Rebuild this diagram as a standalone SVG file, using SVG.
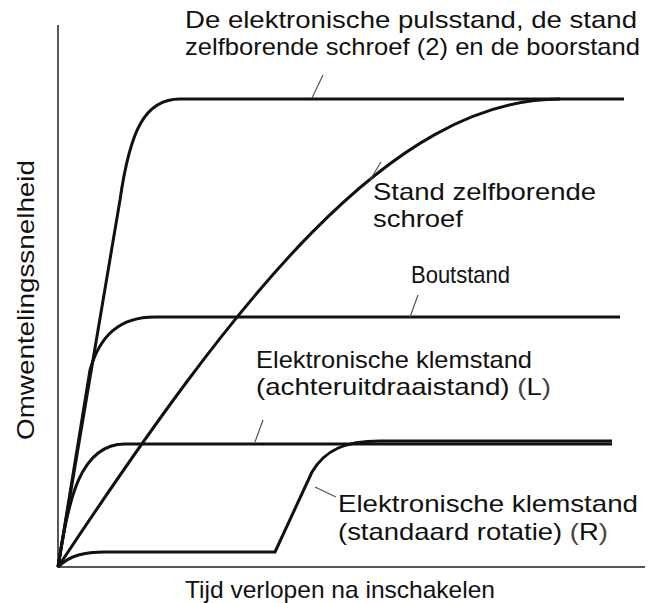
<svg xmlns="http://www.w3.org/2000/svg" width="656" height="603" viewBox="0 0 656 603">
<style>
text{font-family:"Liberation Sans",Arial,sans-serif;font-size:24px;fill:#111}
.c{fill:none;stroke:#111;stroke-width:3;stroke-linejoin:round}
.a{fill:none;stroke:#222;stroke-width:1.5}
.l{fill:none;stroke:#555;stroke-width:1.2}
</style>
<rect width="656" height="603" fill="#fff"/>
<g id="axes">
<path class="a" d="M58,25 V567 H645"/>
<text x="34" y="300" text-anchor="middle" transform="rotate(-90 34 300)" textLength="280" lengthAdjust="spacingAndGlyphs">Omwentelingssnelheid</text>
<text x="340" y="598" text-anchor="middle" textLength="310" lengthAdjust="spacingAndGlyphs">Tijd verlopen na inschakelen</text>
</g>
<g id="curves">
<path class="c" d="M58,567 L120,200 C130,130 145,99 180,99 H624"/>
<path class="c" d="M58,567 C235,300 390,99 560,99"/>
<path class="c" d="M58,567 L90,370 C100,335 120,317 155,317 H620"/>
<path class="c" d="M58,567 C68,500 80,444 125,444 H612"/>
<path class="c" d="M58,567 C70,555 85,552 105,552 H275 L312,472 C325,450 345,441 380,441 H612"/>
</g>
<g id="labels">
<path class="l" d="M312,98 L323,75"/>
<text x="185" y="28" textLength="452" lengthAdjust="spacingAndGlyphs">De elektronische pulsstand, de stand</text>
<text x="185" y="55" textLength="455" lengthAdjust="spacingAndGlyphs">zelfborende schroef (2) en de boorstand</text>
<path class="l" d="M381,162 L370,180"/>
<text x="373" y="200" textLength="223" lengthAdjust="spacingAndGlyphs">Stand zelfborende</text>
<text x="373" y="227" textLength="90" lengthAdjust="spacingAndGlyphs">schroef</text>
<path class="l" d="M410,317 L418,295"/>
<text x="411" y="283" textLength="99" lengthAdjust="spacingAndGlyphs">Boutstand</text>
<path class="l" d="M255,442 L263,420"/>
<text x="256" y="368" textLength="276" lengthAdjust="spacingAndGlyphs">Elektronische klemstand</text>
<text x="256" y="395" textLength="295" lengthAdjust="spacingAndGlyphs">(achteruitdraaistand) <tspan fill="#444">(</tspan>L<tspan fill="#444">)</tspan></text>
<path class="l" d="M315,487 L336,497"/>
<text x="338" y="512" textLength="300" lengthAdjust="spacingAndGlyphs">Elektronische  klemstand</text>
<text x="338" y="540" textLength="270" lengthAdjust="spacingAndGlyphs">(standaard rotatie) <tspan fill="#444">(</tspan>R<tspan fill="#444">)</tspan></text>
</g>
</svg>
